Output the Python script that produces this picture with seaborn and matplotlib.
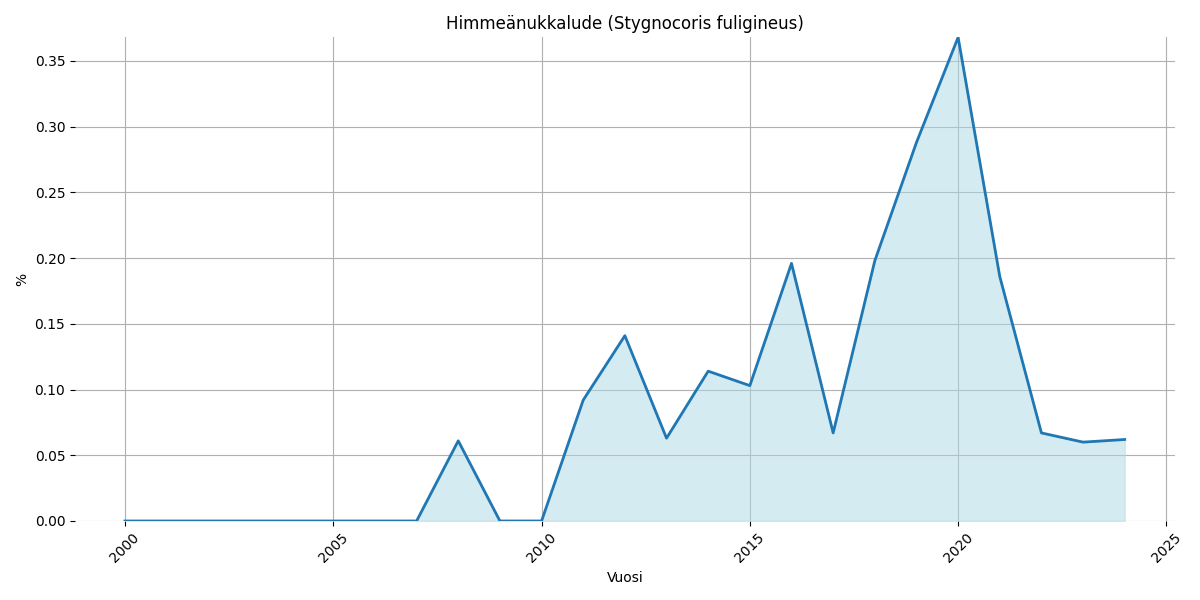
import matplotlib
matplotlib.use('Agg')
import matplotlib.pyplot as plt
import seaborn as sns
import pandas as pd

years = list(range(2000, 2025))
percent = [0, 0, 0, 0, 0, 0, 0, 0, 0.061, 0, 0, 0.092, 0.141, 0.063, 0.114,
           0.103, 0.196, 0.067, 0.198, 0.288, 0.368, 0.186, 0.067, 0.060, 0.062]

df = pd.DataFrame({'Vuosi': years, '%': percent})

fig, ax = plt.subplots(figsize=(12, 6), dpi=100)
sns.lineplot(data=df, x='Vuosi', y='%', ax=ax, color='#1f77b4', linewidth=2)
ax.fill_between(df['Vuosi'], df['%'], color='lightblue', alpha=0.5)
ax.set_ylim(0, max(percent))
ax.set_title('Himmeänukkalude (Stygnocoris fuligineus)')
ax.grid(True, color='#b0b0b0')
ax.set_axisbelow(True)
for spine in ax.spines.values():
    spine.set_visible(False)
plt.xticks(rotation=45)
plt.tight_layout()
plt.savefig('out.png')
